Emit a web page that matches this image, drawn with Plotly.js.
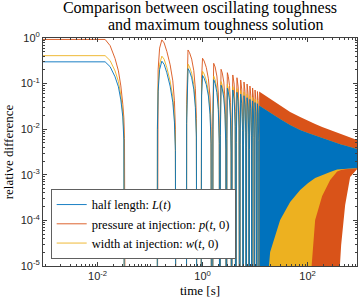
<!DOCTYPE html>
<html>
<head>
<meta charset="utf-8">
<script src="https://cdn.plot.ly/plotly-3.0.1.min.js"></script>
<style>html,body{margin:0;padding:0;background:#fff;}#chart{width:360px;height:304px;}</style>
</head>
<body>
<div id="chart"></div>
<script>
// ---- resolved part of the three series: time [s] and relative differences (1e-9 = exact agreement, off-scale)
const time = [
  0.000916, 0.0139, 0.0173, 0.0215, 0.0249, 0.0277, 0.0302, 0.0316, 0.0325, 0.0339,
  0.1359, 0.1377, 0.1420, 0.1517, 0.1671, 0.1849, 0.2080, 0.2404, 0.2705, 0.2904, 0.3033, 0.3099,
  0.4914, 0.4959, 0.5052, 0.5267, 0.5643, 0.6187, 0.6783, 0.7271, 0.7612, 0.7788,
  0.9282, 0.9368, 0.9546, 0.9961, 1.0685, 1.1735, 1.2893, 1.3832, 1.4499, 1.4840,
  1.5505, 1.5697, 1.6250, 1.7294, 1.8691, 1.9892, 2.0775, 2.1170,
  2.1544, 2.1772, 2.2431, 2.3665, 2.5295, 2.6686, 2.7699, 2.8153,
  2.8652, 2.8891, 2.9571, 3.0842, 3.2508, 3.3907, 3.4917, 3.5364,
  3.5989, 3.6355, 3.7574, 3.9881, 4.1833, 4.2705,
  4.3461, 4.3844, 4.5111, 4.7528, 4.9551, 5.0450,
  5.1343, 5.1748, 5.3058, 5.5559, 5.7645, 5.8562,
  5.9599, 6.0019, 6.1403, 6.3986, 6.6155, 6.7092,
  6.8278, 6.8757, 7.0254, 7.3118, 7.5492, 7.6526,
  7.7540, 7.8020, 7.9608, 8.2594, 8.5057, 8.6145,
  8.7288, 8.7784, 8.9419, 9.2491, 9.5039, 9.6130,
  9.7402, 9.7959, 9.9694, 10.294, 10.564, 10.680,
  10.822, 10.879, 11.060, 11.406, 11.689, 11.813
];
const halfLength = [
  0.30, 0.30, 0.235, 0.141, 0.085, 0.044, 0.0186, 0.0058, 1e-9, 1e-9,
  1e-9, 0.010, 0.068, 0.204, 0.31, 0.265, 0.173, 0.088, 0.039, 0.0143, 0.0034, 1e-9,
  1e-9, 0.0134, 0.0755, 0.213, 0.1854, 0.1343, 0.0755, 0.0301, 0.00673, 1e-9,
  1e-9, 0.00951, 0.0535, 0.1508, 0.1313, 0.0951, 0.0535, 0.0213, 0.00477, 1e-9,
  1e-9, 0.00966, 0.1216, 0.1011, 0.0638, 0.0272, 0.00485, 1e-9,
  1e-9, 0.00731, 0.0921, 0.0766, 0.0483, 0.0206, 0.00366, 1e-9,
  1e-9, 0.0063, 0.0792, 0.0659, 0.0416, 0.0177, 0.00315, 1e-9,
  1e-9, 0.00574, 0.0723, 0.0456, 0.0115, 1e-9,
  1e-9, 0.00513, 0.0645, 0.0407, 0.0102, 1e-9,
  1e-9, 0.00467, 0.0588, 0.0371, 0.0093, 1e-9,
  1e-9, 0.0043, 0.0542, 0.0342, 0.0086, 1e-9,
  1e-9, 0.0039, 0.049, 0.0309, 0.0078, 1e-9,
  1e-9, 0.00359, 0.0451, 0.0285, 0.00715, 1e-9,
  1e-9, 0.00331, 0.0417, 0.0263, 0.0066, 1e-9,
  1e-9, 0.00305, 0.0384, 0.0242, 0.0061, 1e-9,
  1e-9, 0.00288, 0.0362, 0.0229, 0.00575, 1e-9
];
const pressure = [
  0.93, 0.93, 0.68, 0.355, 0.19, 0.089, 0.035, 0.0178, 0.0063, 1e-9,
  1e-9, 0.0295, 0.2, 0.6, 0.91, 0.78, 0.51, 0.26, 0.115, 0.042, 0.01, 1e-9,
  1e-9, 0.0344, 0.1936, 0.546, 0.4753, 0.3443, 0.1936, 0.0771, 0.01726, 1e-9,
  1e-9, 0.02265, 0.1274, 0.359, 0.3126, 0.2265, 0.1274, 0.0507, 0.01135, 1e-9,
  1e-9, 0.0221, 0.2786, 0.2317, 0.1462, 0.0624, 0.0111, 1e-9,
  1e-9, 0.0164, 0.2061, 0.1714, 0.1081, 0.0461, 0.0082, 1e-9,
  1e-9, 0.0138, 0.1734, 0.1442, 0.091, 0.0388, 0.0069, 1e-9,
  1e-9, 0.0123, 0.1545, 0.0975, 0.0245, 1e-9,
  1e-9, 0.0107, 0.1346, 0.0849, 0.0213, 1e-9,
  1e-9, 0.00953, 0.1199, 0.0757, 0.019, 1e-9,
  1e-9, 0.00861, 0.1084, 0.0684, 0.0172, 1e-9,
  1e-9, 0.00778, 0.0979, 0.0618, 0.0155, 1e-9,
  1e-9, 0.00703, 0.0885, 0.0558, 0.0140, 1e-9,
  1e-9, 0.00637, 0.0801, 0.0506, 0.0127, 1e-9,
  1e-9, 0.00575, 0.0724, 0.0457, 0.0115, 1e-9,
  1e-9, 0.00533, 0.0671, 0.0424, 0.0106, 1e-9
];
const width = [
  0.41, 0.41, 0.32, 0.19, 0.112, 0.056, 0.024, 0.008, 1e-9, 1e-9,
  1e-9, 0.013, 0.088, 0.264, 0.40, 0.343, 0.224, 0.114, 0.051, 0.0185, 0.0044, 1e-9,
  1e-9, 0.0169, 0.0949, 0.2675, 0.2329, 0.1687, 0.0949, 0.0378, 0.00846, 1e-9,
  1e-9, 0.01178, 0.0662, 0.1867, 0.1626, 0.1178, 0.0662, 0.0264, 0.0059, 1e-9,
  1e-9, 0.0116, 0.1463, 0.1216, 0.0768, 0.0328, 0.00583, 1e-9,
  1e-9, 0.0088, 0.1107, 0.092, 0.058, 0.0248, 0.0044, 1e-9,
  1e-9, 0.0076, 0.0954, 0.0793, 0.05, 0.0213, 0.0038, 1e-9,
  1e-9, 0.00687, 0.0865, 0.0546, 0.0137, 1e-9,
  1e-9, 0.00615, 0.0774, 0.0488, 0.0122, 1e-9,
  1e-9, 0.00562, 0.0707, 0.0447, 0.0112, 1e-9,
  1e-9, 0.00517, 0.065, 0.041, 0.0103, 1e-9,
  1e-9, 0.0047, 0.0587, 0.0371, 0.0093, 1e-9,
  1e-9, 0.00429, 0.054, 0.034, 0.00855, 1e-9,
  1e-9, 0.00395, 0.0497, 0.0314, 0.00787, 1e-9,
  1e-9, 0.00362, 0.0456, 0.0288, 0.00724, 1e-9,
  1e-9, 0.00341, 0.0429, 0.0271, 0.0068, 1e-9
];

// ---- dense oscillation region: envelopes of the rapidly oscillating curves
const bandTime      = [11.92, 15.51, 19.31, 29.94, 46.42, 71.97, 102.2, 139.0, 188.9, 268.3, 364.8, 434.6, 518.0, 644.9, 876.9];
const pressureUpper = [0.0671, 0.0548, 0.0459, 0.0323, 0.0238, 0.0185, 0.0151, 0.0130, 0.01117, 0.0096, 0.00826, 0.00765, 0.0071, 0.00641, 0.0058];
const pressureLower = [1e-6, 1e-6, 1e-6, 1e-6, 1e-6, 1e-6, 1e-6, 1e-6, 1e-6, 1e-6, 1e-6, 2.89e-5, 2.18e-4, 8.95e-4, 1.34e-3];
const lengthUpper   = [0.0331, 0.0270, 0.0227, 0.01675, 0.01236, 0.0096, 0.00826, 0.00728, 0.00641, 0.00551, 0.00498, 0.00462, 0.00439, 0.00407, 0.00368];
const lengthLower   = [1e-6, 1e-6, 2.03e-5, 1.02e-4, 2.54e-4, 4.65e-4, 6.61e-4, 8.51e-4, 9.9e-4, 1.152e-3, 1.306e-3, 1.34e-3, 1.36e-3, 1.39e-3, 1.41e-3];
const widthLower    = [1e-6, 1e-6, 1e-6, 1e-6, 1e-6, 1e-6, 1e-6, 1.02e-4, 3.43e-4, 7.69e-4, 1.18e-3, 1.27e-3, 1.32e-3, 1.37e-3, 1.39e-3];

const yTicks = [1e-5, 1e-4, 1e-3, 1e-2, 1e-1, 1];
const yTickText = ['10<sup>-5</sup>', '10<sup>-4</sup>', '10<sup>-3</sup>', '10<sup>-2</sup>', '10<sup>-1</sup>', '10<sup>0</sup>'];
const xTicks = [1e-2, 1, 1e2];
const xTickText = ['10<sup>-2</sup>', '10<sup>0</sup>', '10<sup>2</sup>'];

const BLUE = '#0072BD', ORANGE = '#D95319', YELLOW = '#EDB120';

function band(upper, lower, color) {
  return {
    x: bandTime.concat(bandTime.slice().reverse()),
    y: upper.concat(lower.slice().reverse()),
    type: 'scatter', mode: 'lines', fill: 'toself', fillcolor: color,
    line: {width: 0, color: color}, showlegend: false, hoverinfo: 'skip'
  };
}

const traces = [
  band(pressureUpper, pressureLower, ORANGE),
  band(lengthUpper, widthLower, YELLOW),
  band(lengthUpper, lengthLower, BLUE),
  {x: time, y: pressure, type: 'scatter', mode: 'lines', line: {color: ORANGE, width: 0.9},
   name: 'pressure at injection: <i>p</i>(<i>t</i>, 0)', legendrank: 2},
  {x: time, y: width, type: 'scatter', mode: 'lines', line: {color: YELLOW, width: 0.9},
   name: 'width at injection: <i>w</i>(<i>t</i>, 0)', legendrank: 3},
  {x: time, y: halfLength, type: 'scatter', mode: 'lines', line: {color: BLUE, width: 0.9},
   name: 'half length: <i>L</i>(<i>t</i>)', legendrank: 1}
];

const axisCommon = {
  type: 'log', showline: true, linecolor: '#404040', linewidth: 1, mirror: 'ticks',
  ticks: 'inside', ticklen: 4, tickcolor: '#404040', showgrid: false, zeroline: false,
  tickmode: 'array', tickfont: {family: 'Liberation Sans', size: 11, color: '#262626'},
  minor: {ticks: 'inside', ticklen: 2, tickcolor: '#404040', dtick: 'D1', showgrid: false}
};

const layout = {
  width: 360, height: 304,
  margin: {l: 43, r: 3, t: 38, b: 38},
  paper_bgcolor: '#fff', plot_bgcolor: '#fff',
  font: {family: 'Liberation Serif', color: '#000'},
  title: {text: 'Comparison between oscillating toughness', x: 0.5, xref: 'paper', xanchor: 'center',
          y: 0.975, yref: 'container', yanchor: 'middle',
          font: {family: 'Liberation Serif', size: 16, color: '#000'}},
  annotations: [{text: 'and maximum toughness solution', xref: 'paper', yref: 'paper',
                 x: 0.551, y: 1.057, xanchor: 'center', yanchor: 'middle', showarrow: false,
                 font: {family: 'Liberation Serif', size: 16, color: '#000'}}],
  xaxis: Object.assign({}, axisCommon, {
    range: [-3.04, 2.94], tickvals: xTicks, ticktext: xTickText,
    title: {text: 'time [s]', standoff: 4, font: {family: 'Liberation Serif', size: 13, color: '#000'}}
  }),
  yaxis: Object.assign({}, axisCommon, {
    range: [-5, 0], tickvals: yTicks, ticktext: yTickText,
    title: {text: 'relative difference', standoff: 4, font: {family: 'Liberation Serif', size: 13, color: '#000'}}
  }),
  legend: {x: 0.0245, y: 0.031, xanchor: 'left', yanchor: 'bottom', bgcolor: '#fff',
           bordercolor: '#606060', borderwidth: 1, itemwidth: 30, tracegroupgap: 0,
           font: {family: 'Liberation Serif', size: 12.5, color: '#000'}},
  showlegend: true
};

Plotly.newPlot('chart', traces, layout, {staticPlot: true, displayModeBar: false});
</script>
</body>
</html>
